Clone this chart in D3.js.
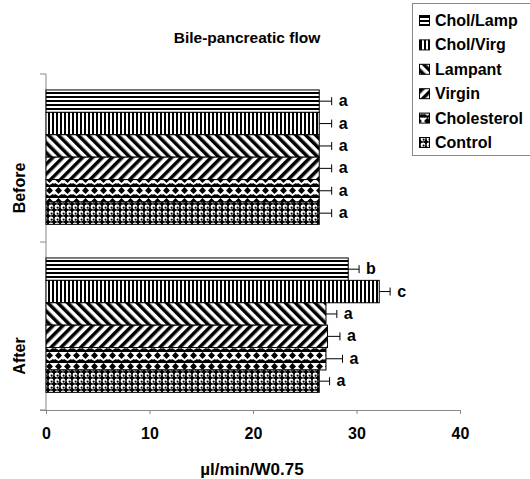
<!DOCTYPE html>
<html>
<head>
<meta charset="utf-8">
<script src="https://cdn.jsdelivr.net/npm/d3@7"></script>
<style>
  body { margin: 0; background: #fff; }
  svg { display: block; font-family: "Liberation Sans", Arial, sans-serif; }
</style>
</head>
<body>
<svg id="chart" width="530" height="479"></svg>
<script>
// ---- data ----
const periods = ["Before", "After"];
const groups = ["Chol/Lamp", "Chol/Virg", "Lampant", "Virgin", "Cholesterol", "Control"];
const beforeValues = [26.4, 26.4, 26.4, 26.4, 26.4, 26.4];
const beforeErrors = [1.2, 1.2, 1.2, 1.2, 1.2, 1.2];
const beforeLetters = ["a", "a", "a", "a", "a", "a"];
const afterValues = [29.2, 32.2, 27.05, 27.2, 27.05, 26.4];
const afterErrors = [1.05, 1.05, 1.05, 1.2, 1.6, 1.0];
const afterLetters = ["b", "c", "a", "a", "a", "a"];
const xTicks = [0, 10, 20, 30, 40];
const titleText = "Bile-pancreatic flow";
const xTitle = "\u00B5l/min/W0.75";

const rows = [];
groups.forEach((g, i) => {
  rows.push({period: "Before", group: g, value: beforeValues[i], err: beforeErrors[i], letter: beforeLetters[i]});
  rows.push({period: "After", group: g, value: afterValues[i], err: afterErrors[i], letter: afterLetters[i]});
});

const svg = d3.select("#chart");
const mLeft = 46, mRight = 460, mTop = 74, mBottom = 410;

const x = d3.scaleLinear().domain([0, 40]).range([mLeft, mRight]);
const y = d3.scaleBand().domain(periods).range([mTop, mBottom]);
const yInner = d3.scaleBand().domain(groups)
  .range([y.bandwidth() * 0.095, y.bandwidth() * 0.895]);

// ---- patterns ----
const defs = svg.append("defs");
function pat(id, w, h, transform) {
  const p = defs.append("pattern").attr("id", id).attr("patternUnits", "userSpaceOnUse")
    .attr("width", w).attr("height", h);
  if (transform) p.attr("patternTransform", transform);
  p.append("rect").attr("width", w).attr("height", h).attr("fill", "#fff");
  return p;
}
// Chol/Lamp: horizontal lines
pat("p0", 4, 4).append("rect").attr("y", 0).attr("width", 4).attr("height", 2).attr("fill", "#000");
// Chol/Virg: vertical lines
pat("p1", 4, 4).append("rect").attr("x", 0).attr("width", 2).attr("height", 4).attr("fill", "#000");
// Lampant: wide downward diagonal
pat("p2", 7, 7, "rotate(-45)").append("rect").attr("width", 3.5).attr("height", 7).attr("fill", "#000");
// Virgin: wide upward diagonal
pat("p3", 7, 7, "rotate(45)").append("rect").attr("width", 3.5).attr("height", 7).attr("fill", "#000");
// Cholesterol: solid diamonds
const p4 = pat("p4", 9, 11);
p4.append("path").attr("d", "M4.5,0 L8,3.5 L4.5,7 L1,3.5 Z").attr("fill", "#000");
p4.append("path").attr("d", "M0,8 L1,7 L4.5,9 L8,7 L9,8 L9,11 L0,11 Z").attr("fill", "#000");
// Control: circles on dark
const p5 = pat("p5", 6, 6);
p5.append("rect").attr("width", 6).attr("height", 6).attr("fill", "#000");
p5.append("circle").attr("cx", 3).attr("cy", 3).attr("r", 2.4).attr("fill", "#fff");
p5.append("circle").attr("cx", 3.6).attr("cy", 3.6).attr("r", 1.1).attr("fill", "#000");
const patId = d3.scaleOrdinal().domain(groups).range(["p0", "p1", "p2", "p3", "p4", "p5"]);

// ---- title ----
svg.append("text").attr("x", 247).attr("y", 43).attr("text-anchor", "middle")
  .attr("font-size", 15.5).attr("font-weight", "bold").text(titleText);

// ---- axes ----
const xAxis = d3.axisBottom(x).tickValues(xTicks).tickSize(4).tickPadding(14).tickFormat(d3.format("d"));
const gx = svg.append("g").attr("transform", `translate(0,${mBottom})`).call(xAxis);
gx.select(".domain").attr("stroke", "#888").attr("d", `M${mLeft - 6},0.5H${mRight}`);
gx.selectAll(".tick line").attr("stroke", "#888");
gx.selectAll(".tick text").attr("font-size", 16).attr("font-weight", "bold").attr("fill", "#000");

const gy = svg.append("g").attr("transform", `translate(${mLeft},0)`);
gy.append("line").attr("x1", 0).attr("x2", 0).attr("y1", mTop).attr("y2", mBottom).attr("stroke", "#888");
const boundaries = [mTop, ...periods.map(p => y(p) + y.bandwidth())];
gy.selectAll("line.tk").data(boundaries).join("line").attr("class", "tk")
  .attr("x1", -6).attr("x2", 0).attr("y1", d => d).attr("y2", d => d).attr("stroke", "#888");
gy.selectAll("text.cat").data(periods).join("text").attr("class", "cat")
  .attr("transform", d => `translate(-21,${y(d) + y.bandwidth() / 2 + 30}) rotate(-90)`)
  .attr("text-anchor", "middle").attr("font-size", 16).attr("font-weight", "bold").text(d => d);

svg.append("text").attr("x", 252).attr("y", 475).attr("text-anchor", "middle")
  .attr("font-size", 17).attr("font-weight", "bold").text(xTitle);

// ---- bars ----
const barY = d => y(d.period) + yInner(d.group);
const bh = yInner.bandwidth();
svg.append("g").selectAll("rect").data(rows).join("rect")
  .attr("x", x(0)).attr("y", barY)
  .attr("width", d => x(d.value) - x(0)).attr("height", bh)
  .attr("fill", d => `url(#${patId(d.group)})`).attr("stroke", "#000").attr("stroke-width", 1);

// error bars
const eb = svg.append("g").attr("stroke", "#000").attr("stroke-width", 1);
eb.selectAll("line.h").data(rows).join("line").attr("class", "h")
  .attr("x1", d => x(d.value)).attr("x2", d => x(d.value + d.err))
  .attr("y1", d => barY(d) + bh / 2).attr("y2", d => barY(d) + bh / 2);
eb.selectAll("line.c").data(rows).join("line").attr("class", "c")
  .attr("x1", d => x(d.value + d.err)).attr("x2", d => x(d.value + d.err))
  .attr("y1", d => barY(d) + bh / 2 - 4).attr("y2", d => barY(d) + bh / 2 + 4);
svg.append("g").selectAll("text").data(rows).join("text")
  .attr("x", d => x(d.value + d.err) + 7).attr("y", d => barY(d) + bh / 2 + 5)
  .attr("font-size", 16).attr("font-weight", "bold").text(d => d.letter);

// ---- legend ----
const lg = svg.append("g");
lg.append("rect").attr("x", 412.5).attr("y", 3.5).attr("width", 125).attr("height", 152)
  .attr("fill", "#fff").attr("stroke", "#888");
const legendY = d3.scalePoint().domain(groups).range([20, 142]);
const li = lg.selectAll("g.li").data(groups).join("g").attr("class", "li")
  .attr("transform", d => `translate(0,${legendY(d)})`);
li.append("rect").attr("x", 419.5).attr("y", -4.5).attr("width", 10).attr("height", 10)
  .attr("fill", d => `url(#${patId(d)})`).attr("stroke", "#000");
li.append("text").attr("x", 435).attr("y", 6).attr("font-size", 16).attr("font-weight", "bold").text(d => d);
</script>
</body>
</html>
